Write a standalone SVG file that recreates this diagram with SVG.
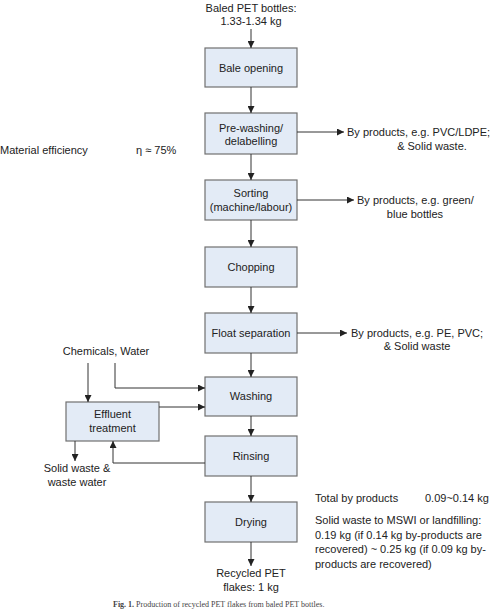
<svg xmlns="http://www.w3.org/2000/svg" width="500" height="610" viewBox="0 0 500 610">
<defs>
<marker id="ah" viewBox="0 0 10 10" refX="10" refY="5" markerWidth="7" markerHeight="7" markerUnits="userSpaceOnUse" orient="auto">
<path d="M0,0 L10,5 L0,10 z" fill="#222"/>
</marker>
</defs>
<style>
.box{fill:#e3ebf6;stroke:#707070;stroke-width:1.2}
text{font-family:"Liberation Sans",Arial,sans-serif;font-size:11px;fill:#222}
.c{text-anchor:middle}
.ln{fill:none;stroke:#333;stroke-width:1;marker-end:url(#ah)}
.cap{font-family:"Liberation Serif","Times New Roman",serif;font-size:8px;fill:#444}
</style>
<rect width="500" height="610" fill="#fff"/>
<g id="input">
<text class="c" x="251" y="11.5">Baled PET bottles:</text>
<text class="c" x="251" y="24.5">1.33-1.34 kg</text>
</g>
<g id="bale"><rect class="box" x="205" y="48" width="92" height="39"/><text class="c" x="251" y="71.5">Bale opening</text></g>
<g id="prewash"><rect class="box" x="205" y="113" width="92" height="41"/><text class="c" x="251" y="131.5">Pre-washing/</text><text class="c" x="251" y="145">delabelling</text></g>
<g id="sorting"><rect class="box" x="205" y="180" width="92" height="40"/><text class="c" x="251" y="197">Sorting</text><text class="c" x="251" y="211">(machine/labour)</text></g>
<g id="chopping"><rect class="box" x="205" y="247" width="92" height="40"/><text class="c" x="251" y="270.5">Chopping</text></g>
<g id="float"><rect class="box" x="205" y="313" width="92" height="40"/><text class="c" x="251" y="337">Float separation</text></g>
<g id="washing"><rect class="box" x="205" y="377" width="92" height="39"/><text class="c" x="251" y="400">Washing</text></g>
<g id="rinsing"><rect class="box" x="205" y="436" width="92" height="40"/><text class="c" x="251" y="459.5">Rinsing</text></g>
<g id="drying"><rect class="box" x="205" y="502" width="92" height="40"/><text class="c" x="251" y="525.5">Drying</text></g>
<g id="effluent"><rect class="box" x="66" y="402" width="93" height="39"/><text class="c" x="112.5" y="418">Effluent</text><text class="c" x="112.5" y="432">treatment</text></g>
<g id="efficiency"><text x="0" y="154">Material efficiency</text><text x="136" y="154">η ≈ 75%</text></g>
<g id="byprod1"><text x="347" y="136">By products, e.g. PVC/LDPE;</text><text class="c" x="432" y="150">&amp; Solid waste.</text></g>
<g id="byprod2"><text x="357" y="204">By products, e.g. green/</text><text class="c" x="415" y="218">blue bottles</text></g>
<g id="byprod3"><text x="351" y="337">By products, e.g. PE, PVC;</text><text class="c" x="417" y="350">&amp; Solid waste</text></g>
<g id="chemicals"><text class="c" x="106" y="355">Chemicals, Water</text></g>
<g id="solidwaste"><text class="c" x="77" y="472">Solid waste &amp;</text><text class="c" x="77" y="486">waste water</text></g>
<g id="output"><text class="c" x="251" y="577">Recycled PET</text><text class="c" x="251" y="590.5">flakes: 1 kg</text></g>
<g id="summary">
<text x="315" y="502">Total by products</text><text x="425" y="502">0.09~0.14 kg</text>
<text x="315" y="524">Solid waste to MSWI or landfilling:</text>
<text x="315" y="538.5">0.19 kg (if 0.14 kg by-products are</text>
<text x="315" y="553">recovered) ~ 0.25 kg (if 0.09 kg by-</text>
<text x="315" y="567.5">products are recovered)</text>
</g>
<g id="connectors">
<line class="ln" x1="251" y1="29" x2="251" y2="48"/>
<line class="ln" x1="251" y1="87" x2="251" y2="113"/>
<line class="ln" x1="251" y1="154" x2="251" y2="180"/>
<line class="ln" x1="251" y1="220" x2="251" y2="247"/>
<line class="ln" x1="251" y1="287" x2="251" y2="313"/>
<line class="ln" x1="251" y1="353" x2="251" y2="377"/>
<line class="ln" x1="251" y1="416" x2="251" y2="436"/>
<line class="ln" x1="251" y1="476" x2="251" y2="502"/>
<line class="ln" x1="251" y1="542" x2="251" y2="566"/>
<line class="ln" x1="297" y1="132" x2="344" y2="132"/>
<line class="ln" x1="297" y1="200" x2="354" y2="200"/>
<line class="ln" x1="297" y1="333" x2="347" y2="333"/>
<line class="ln" x1="88" y1="363" x2="88" y2="402"/>
<polyline class="ln" points="115,363 115,388 205,388"/>
<line class="ln" x1="159" y1="407" x2="205" y2="407"/>
<line class="ln" x1="75" y1="441" x2="75" y2="461"/>
<polyline class="ln" points="205,463 113,463 113,441"/>
</g>
<text class="cap" x="113" y="607"><tspan font-weight="bold">Fig. 1.</tspan> Production of recycled PET flakes from baled PET bottles.</text>
</svg>
